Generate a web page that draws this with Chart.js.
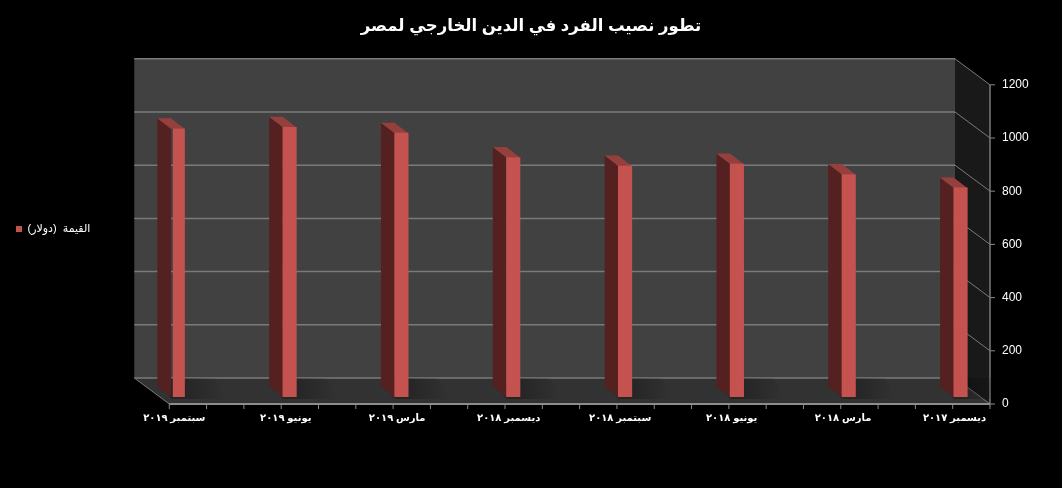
<!DOCTYPE html>
<html>
<head>
<meta charset="utf-8">
<style>
html, body { margin: 0; padding: 0; background: #000; }
#wrap { width: 1062px; height: 488px; }
</style>
<script src="https://cdn.jsdelivr.net/npm/chart.js@4"></script>
</head>
<body>
<div id="wrap"><canvas id="dettechart"></canvas></div>
<script>
const categories = ['سبتمبر ٢٠١٩', 'يونيو ٢٠١٩', 'مارس ٢٠١٩', 'ديسمبر ٢٠١٨', 'سبتمبر ٢٠١٨', 'يونيو ٢٠١٨', 'مارس ٢٠١٨', 'ديسمبر ٢٠١٧'];
const valeurs = [1008, 1014, 992, 900, 868, 876, 836, 786];
const titre = 'تطور نصيب الفرد في الدين الخارجي لمصر';
const nomSerie = 'القيمة  (دولار)';

// depth of the fake 3d box, the bars stand part way into it
const fond = { dx: -35, dy: -26 };
const planBarres = { dx: 3.5, dy: -7 };
const profondeurBarre = { dx: -13.7, dy: -10.5 };

const police = "'Liberation Sans', 'DejaVu Sans', sans-serif";

const boite3d = {
  id: 'boite3d',
  afterLayout(chart) {
    // legend and title ignore the left padding that places the plot
    chart.legend.top -= 15;
    chart.legend.bottom -= 15;
    chart.legend.left -= 69;
    chart.legend.right -= 69;
    chart.titleBlock.left -= 69;
  },
  beforeDatasetsDraw(chart) {
    const ctx = chart.ctx, x = chart.scales.x, y = chart.scales.y;
    const g = x.left, d = x.right, h = y.top, b = y.bottom;
    const poly = (pts, fill) => {
      ctx.beginPath();
      pts.forEach((p, i) => i ? ctx.lineTo(p[0], p[1]) : ctx.moveTo(p[0], p[1]));
      ctx.closePath();
      ctx.fillStyle = fill;
      ctx.fill();
    };
    const ligne = (x1, y1, x2, y2, couleur, w) => {
      ctx.beginPath();
      ctx.moveTo(x1, y1);
      ctx.lineTo(x2, y2);
      ctx.strokeStyle = couleur;
      ctx.lineWidth = w;
      ctx.stroke();
    };
    ctx.save();
    // back wall, right wall, floor
    poly([[g + fond.dx, h + fond.dy], [d + fond.dx, h + fond.dy], [d + fond.dx, b + fond.dy], [g + fond.dx, b + fond.dy]], '#414141');
    poly([[d + fond.dx, h + fond.dy], [d, h], [d, b], [d + fond.dx, b + fond.dy]], '#191919');
    poly([[g + fond.dx, b + fond.dy], [d + fond.dx, b + fond.dy], [d, b], [g, b]], '#323232');
    // gridlines follow the value axis
    y.ticks.forEach(t => {
      const py = y.getPixelForValue(t.value);
      ligne(g + fond.dx, py + fond.dy, d + fond.dx, py + fond.dy, '#7a7a7a', 1.5);
      ligne(d + fond.dx, py + fond.dy, d, py, '#7a7a7a', 1);
      ligne(d, py, d + 5, py, '#8a8a8a', 1);
    });
    ligne(g + fond.dx, b + fond.dy, g, b, '#7a7a7a', 1);
    ligne(d, h, d, b, '#7a7a7a', 1.5);
    ligne(g, b, d, b, '#8c8c8c', 2);
    // small ticks under the floor, three per category
    const pas = (d - g) / 22;
    for (let k = 0; k <= 22; k++) ligne(g + k * pas, b, g + k * pas, b + 5, '#8c8c8c', 1);
    // side and top of each bar, with a soft shadow on the floor
    chart.getDatasetMeta(0).data.forEach(bar => {
      const p = bar.getProps(['x', 'y', 'base', 'width'], true);
      const gx = p.x - p.width / 2 + planBarres.dx, dx = gx + p.width;
      const ty = p.y + planBarres.dy, by = p.base + planBarres.dy;
      const px = profondeurBarre.dx, py = profondeurBarre.dy;
      const ombre = ctx.createLinearGradient(dx, 0, dx + 42, 0);
      ombre.addColorStop(0, 'rgba(0,0,0,0.25)');
      ombre.addColorStop(1, 'rgba(0,0,0,0)');
      poly([[gx + px, b + fond.dy], [dx + 30, b + fond.dy], [dx + 42, by + 2], [gx, by + 2]], ombre);
      poly([[gx + px, ty + py], [gx, ty], [gx, by], [gx + px, by + py]], '#542020');
      poly([[gx + px, ty + py], [dx + px, ty + py], [dx, ty], [gx, ty]], '#96403e');
    });
    ctx.restore();
    // front faces are the real bars, pushed into the box
    ctx.save();
    ctx.translate(planBarres.dx, planBarres.dy);
  },
  afterDatasetsDraw(chart) {
    chart.ctx.restore();
  }
};

const config = {
  type: 'bar',
  data: {
    datasets: [{
      label: nomSerie,
      data: valeurs.map((v, i) => ({ x: i, y: v })),
      backgroundColor: '#c4524f',
      barThickness: 13.5
    }]
  },
  options: {
    responsive: true,
    maintainAspectRatio: false,
    animation: false,
    layout: { padding: { left: 69, right: 0, top: 0, bottom: 0 } },
    scales: {
      x: {
        type: 'linear',
        offset: false,
        min: -0.0447,
        max: 7.2947,
        grid: { display: false },
        border: { display: false },
        // labels run slightly tighter than the bars in the picture
        afterBuildTicks: s => { s.ticks = categories.map((c, i) => ({ value: i * 0.9968 })); },
        afterFit: s => { s.height = 84; },
        ticks: {
          autoSkip: false,
          maxRotation: 0,
          color: '#fff',
          font: { family: police, size: 10, weight: 'bold' },
          padding: 0,
          callback: (v, i) => categories[i]
        }
      },
      y: {
        position: 'right',
        min: 0,
        max: 1200,
        grid: { display: false },
        border: { display: false },
        afterFit: s => { s.width = 72; },
        ticks: {
          stepSize: 200,
          color: '#fff',
          font: { family: police, size: 12 },
          padding: 4,
          callback: v => String(v)
        }
      }
    },
    plugins: {
      title: {
        display: true,
        text: titre,
        color: '#fff',
        font: { family: police, size: 16.5, weight: 'bold' },
        padding: { top: 17, bottom: 48 }
      },
      legend: {
        position: 'left',
        labels: {
          color: '#fff',
          font: { family: police, size: 11 },
          boxWidth: 6,
          boxHeight: 6,
          padding: 16
        }
      },
      tooltip: { enabled: false }
    }
  },
  plugins: [boite3d]
};

var dettechart = new Chart(document.getElementById('dettechart').getContext('2d'), config);
</script>
</body>
</html>
